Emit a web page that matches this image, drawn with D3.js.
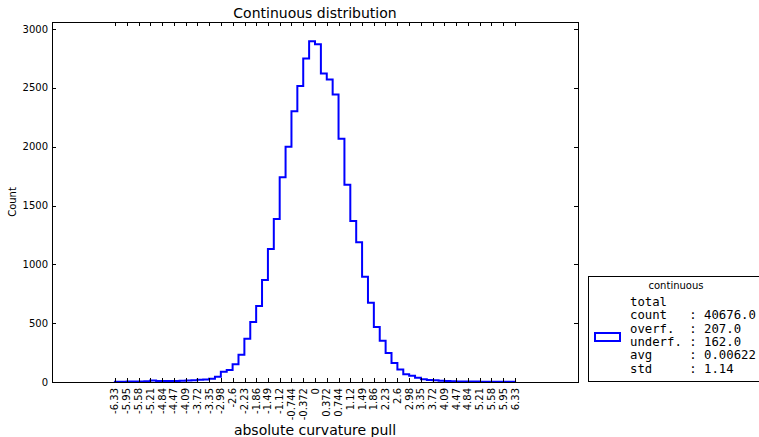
<!DOCTYPE html>
<html>
<head>
<meta charset="utf-8">
<script src="https://cdn.jsdelivr.net/npm/d3@7"></script>
<style>
  body { margin: 0; background: #fff; }
  text { font-family: "DejaVu Sans", sans-serif; }
</style>
</head>
<body>
<div id="main"></div>
<script>
const ctx = {
    w: 759,
    h: 437,
    margin: { top: 22, right: 181, bottom: 55, left: 52 },
};

// histogram: 68 equal bins between binLo and binHi
const binLo = -6.33;
const binHi = 6.33;
const counts = [2, 2, 4, 5, 5, 6, 12, 8, 8, 9, 9, 10, 13, 14, 20, 22, 28, 45, 88, 102,
    150, 232, 368, 510, 646, 867, 1130, 1385, 1741, 2000, 2302, 2515, 2750, 2897, 2870, 2622,
    2572, 2444, 2067, 1676, 1368, 1187, 895, 674, 467, 351, 246, 161, 107, 65, 54, 37, 23,
    17, 14, 10, 8, 6, 5, 5, 4, 4, 3, 3, 2, 2, 2, 2];

const xTickLabels = ["-6.33", "-5.95", "-5.58", "-5.21", "-4.84", "-4.47", "-4.09", "-3.72",
    "-3.35", "-2.98", "-2.6", "-2.23", "-1.86", "-1.49", "-1.12", "-0.744", "-0.372", "0",
    "0.372", "0.744", "1.12", "1.49", "1.86", "2.23", "2.6", "2.98", "3.35", "3.72", "4.09",
    "4.47", "4.84", "5.21", "5.58", "5.95", "6.33"];
const yTicks = [0, 500, 1000, 1500, 2000, 2500, 3000];

const legendTitle = "continuous";
const legendLines = ["total", "count   : 40676.0", "overf.  : 207.0",
    "underf. : 162.0", "avg     : 0.00622", "std     : 1.14"];

function createViz() {
    const svg = d3.select("#main").append("svg")
        .attr("width", ctx.w)
        .attr("height", ctx.h);

    const x0 = ctx.margin.left, x1 = ctx.w - ctx.margin.right;
    const y0 = ctx.h - ctx.margin.bottom, y1 = ctx.margin.top;

    const xScale = d3.scaleLinear().domain([-8.32, 8.32]).range([x0, x1]);
    const yScale = d3.scaleLinear().domain([0, 3060]).range([y0, y1]);

    // histogram outline (step)
    const n = counts.length;
    const bw = (binHi - binLo) / n;
    const pts = [[binLo, 0]];
    counts.forEach((c, i) => {
        pts.push([binLo + i * bw, c]);
        pts.push([binLo + (i + 1) * bw, c]);
    });
    pts.push([binHi, 0]);
    const line = d3.line().x(d => xScale(d[0])).y(d => yScale(d[1]));
    svg.append("path")
        .datum(pts)
        .attr("d", line)
        .attr("fill", "none")
        .attr("stroke", "#0000ff")
        .attr("stroke-width", 2)
        .attr("stroke-linejoin", "miter");

    // ticks (inward, on all sides)
    const tl = 4;
    const tickG = svg.append("g").attr("stroke", "#000").attr("stroke-width", 1);
    xTickLabels.forEach(t => {
        const x = Math.round(xScale(+t)) + 0.5;
        tickG.append("line").attr("x1", x).attr("x2", x).attr("y1", y0).attr("y2", y0 - tl);
        tickG.append("line").attr("x1", x).attr("x2", x).attr("y1", y1).attr("y2", y1 + tl);
    });
    yTicks.forEach(t => {
        const y = Math.round(yScale(t)) + 0.5;
        tickG.append("line").attr("x1", x0).attr("x2", x0 + tl).attr("y1", y).attr("y2", y);
        tickG.append("line").attr("x1", x1).attr("x2", x1 - tl).attr("y1", y).attr("y2", y);
    });

    // frame
    svg.append("rect")
        .attr("x", x0 + 0.5).attr("y", y1 + 0.5)
        .attr("width", x1 - x0).attr("height", y0 - y1)
        .attr("fill", "none").attr("stroke", "#000").attr("stroke-width", 1);

    // tick labels
    svg.append("g").selectAll("text")
        .data(xTickLabels)
        .enter().append("text")
        .attr("transform", d => `translate(${xScale(+d) + 3.5}, ${y0 + 6}) rotate(-90)`)
        .attr("text-anchor", "end")
        .style("font-size", "10px")
        .text(d => d);

    svg.append("g").selectAll("text")
        .data(yTicks)
        .enter().append("text")
        .attr("x", x0 - 4)
        .attr("y", d => yScale(d) + 3.5)
        .attr("text-anchor", "end")
        .style("font-size", "10px")
        .text(d => d);

    // titles
    svg.append("text")
        .attr("x", (x0 + x1) / 2).attr("y", 18)
        .attr("text-anchor", "middle")
        .style("font-size", "14px")
        .text("Continuous distribution");

    svg.append("text")
        .attr("x", (x0 + x1) / 2).attr("y", 435)
        .attr("text-anchor", "middle")
        .style("font-size", "14px")
        .text("absolute curvature pull");

    svg.append("text")
        .attr("transform", `translate(16, ${(y0 + y1) / 2}) rotate(-90)`)
        .attr("text-anchor", "middle")
        .style("font-size", "10px")
        .text("Count");

    // legend
    const lg = svg.append("g");
    lg.append("rect")
        .attr("x", 588.5).attr("y", 276.5)
        .attr("width", 190).attr("height", 105)
        .attr("fill", "#fff").attr("stroke", "#000").attr("stroke-width", 1);
    lg.append("text")
        .attr("x", 676).attr("y", 289)
        .attr("text-anchor", "middle")
        .style("font-size", "10px")
        .text(legendTitle);
    lg.append("rect")
        .attr("x", 595).attr("y", 333)
        .attr("width", 25).attr("height", 8)
        .attr("fill", "none").attr("stroke", "#0000ff").attr("stroke-width", 2);
    lg.selectAll("text.row")
        .data(legendLines)
        .enter().append("text")
        .attr("class", "row")
        .attr("x", 630)
        .attr("y", (d, i) => 306 + i * 13.3)
        .style("font-family", "'DejaVu Sans Mono', monospace")
        .style("font-size", "12.3px")
        .style("white-space", "pre")
        .text(d => d);
}

createViz();
</script>
</body>
</html>
